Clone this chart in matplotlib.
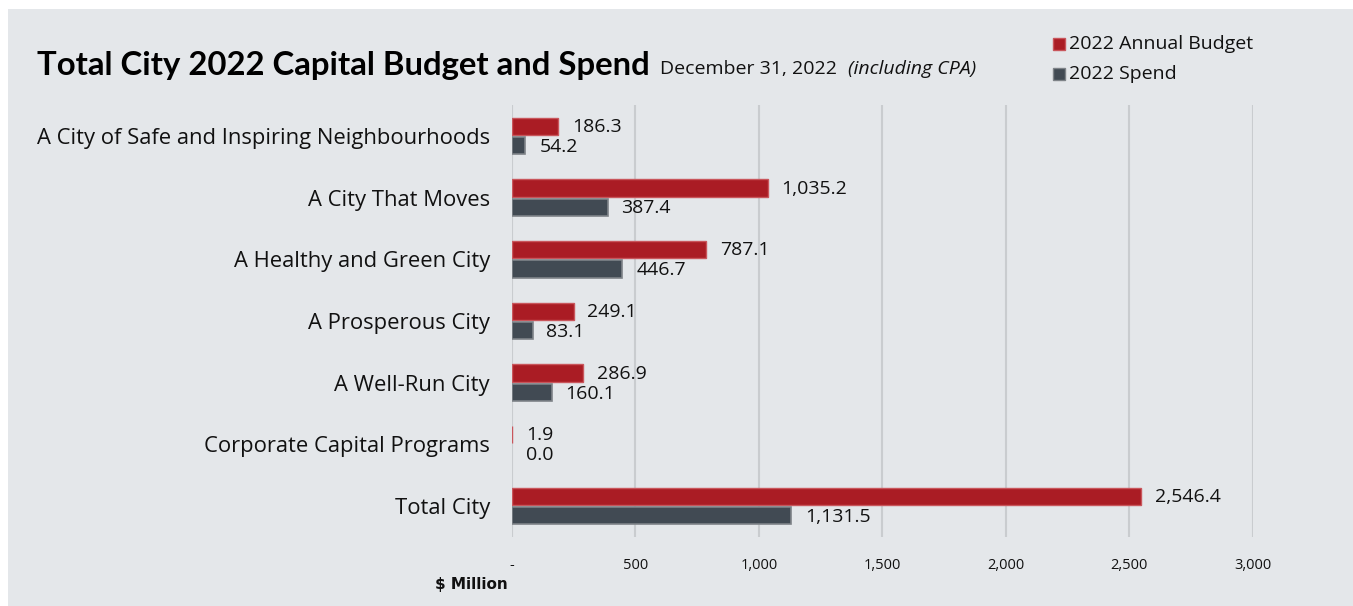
import matplotlib
matplotlib.use("Agg")
import matplotlib.pyplot as plt
from matplotlib.patches import Rectangle
from matplotlib.ticker import FuncFormatter, MultipleLocator
import numpy as np

categories = [
    "A City of Safe and Inspiring Neighbourhoods",
    "A City That Moves",
    "A Healthy and Green City",
    "A Prosperous City",
    "A Well-Run City",
    "Corporate Capital Programs",
    "Total City",
]
budget = [186.3, 1035.2, 787.1, 249.1, 286.9, 1.9, 2546.4]
spend = [54.2, 387.4, 446.7, 83.1, 160.1, 0.0, 1131.5]
series_names = ["2022 Annual Budget", "2022 Spend"]

RED = "#AA1C24"
RED_EDGE = "#C9565C"
GRAY = "#414A53"
GRAY_EDGE = "#7E8388"
BG = "#E4E7EA"
FONT = "Open Sans"

W, H = 1353, 606
fig = plt.figure(figsize=(W / 100, H / 100), dpi=100, facecolor="white")
fig.patches.append(Rectangle((8 / W, 0), 1 - 8 / W, 1 - 9 / H, transform=fig.transFigure,
                             facecolor=BG, edgecolor="none", zorder=-10))

ax = fig.add_axes([512 / W, 1 - 537 / H, (1252.7 - 512) / W, (537 - 105) / H])
ax.set_facecolor("none")

y = np.arange(len(categories))
off = 0.157
h = 0.28
ax.barh(y - off, budget, height=h, color=RED,
        edgecolor=[RED_EDGE if v > 0 else "none" for v in budget], linewidth=1.0,
        label=series_names[0], zorder=3)
ax.barh(y + off, spend, height=h, color=GRAY,
        edgecolor=[GRAY_EDGE if v > 0 else "none" for v in spend], linewidth=1.2,
        label=series_names[1], zorder=3)

for yi, v in zip(y, budget):
    ax.annotate(f"{v:,.1f}", (v, yi - off), xytext=(10, -0.5), textcoords="offset points",
                va="center", ha="left", fontsize=14, family=FONT, color="#111111")
for yi, v in zip(y, spend):
    ax.annotate(f"{v:,.1f}", (v, yi + off), xytext=(10, -0.8), textcoords="offset points",
                va="center", ha="left", fontsize=14, family=FONT, color="#111111")

ax.set_xlim(0, 3000)
ax.set_ylim(6.5, -0.5)
ax.xaxis.set_major_locator(MultipleLocator(500))
ax.xaxis.set_major_formatter(FuncFormatter(lambda v, p: "-" if v == 0 else f"{v:,.0f}"))
ax.grid(axis="x", color="#C9CCCF", linewidth=1.5, zorder=0)
ax.set_axisbelow(True)
for s in ax.spines.values():
    s.set_visible(False)
ax.tick_params(axis="x", length=0, pad=15, labelsize=10.5)
ax.tick_params(axis="y", length=0, pad=16, labelsize=15.8)
for t in ax.get_xticklabels():
    t.set_family(FONT)
    t.set_color("#111111")
ax.set_yticks(y)
ax.set_yticklabels(categories, family=FONT, color="#111111")

fig.text(508 / W, 1 - 585 / H, "$ Million", ha="right", va="center", fontsize=11,
         fontweight="bold", family="Liberation Sans Narrow", color="#111111")

# Title
title = fig.text(37 / W, 1 - 65 / H, "Total City 2022 Capital Budget and Spend", ha="left",
                 va="center", fontsize=23.7, fontweight="bold", family="Lato", color="#000000")
fig.canvas.draw()
r = fig.canvas.get_renderer()
bb = title.get_window_extent(r)
x1 = bb.x1 + 10
sub1 = fig.text(x1 / W, 1 - 69 / H, "December 31, 2022", ha="left", va="center",
                fontsize=14, family=FONT, color="#111111")
fig.canvas.draw()
bb2 = sub1.get_window_extent(r)
fig.text((bb2.x1 + 11) / W, 1 - 69 / H, "(including CPA)", ha="left", va="center",
         fontsize=14, family=FONT, style="italic", color="#111111")

# Legend
for i, (name, c, ec) in enumerate(zip(series_names, [RED, GRAY], [RED_EDGE, GRAY_EDGE])):
    yc = 44 + i * 30
    fig.patches.append(Rectangle((1053 / W, 1 - (yc + 6) / H), 12 / W, 12 / H,
                                 transform=fig.transFigure, facecolor=c, edgecolor=ec, linewidth=1))
    fig.text(1069 / W, 1 - yc / H, name, ha="left", va="center", fontsize=14,
             family=FONT, color="#111111")

fig.savefig("out.png", dpi=100, facecolor="white")
